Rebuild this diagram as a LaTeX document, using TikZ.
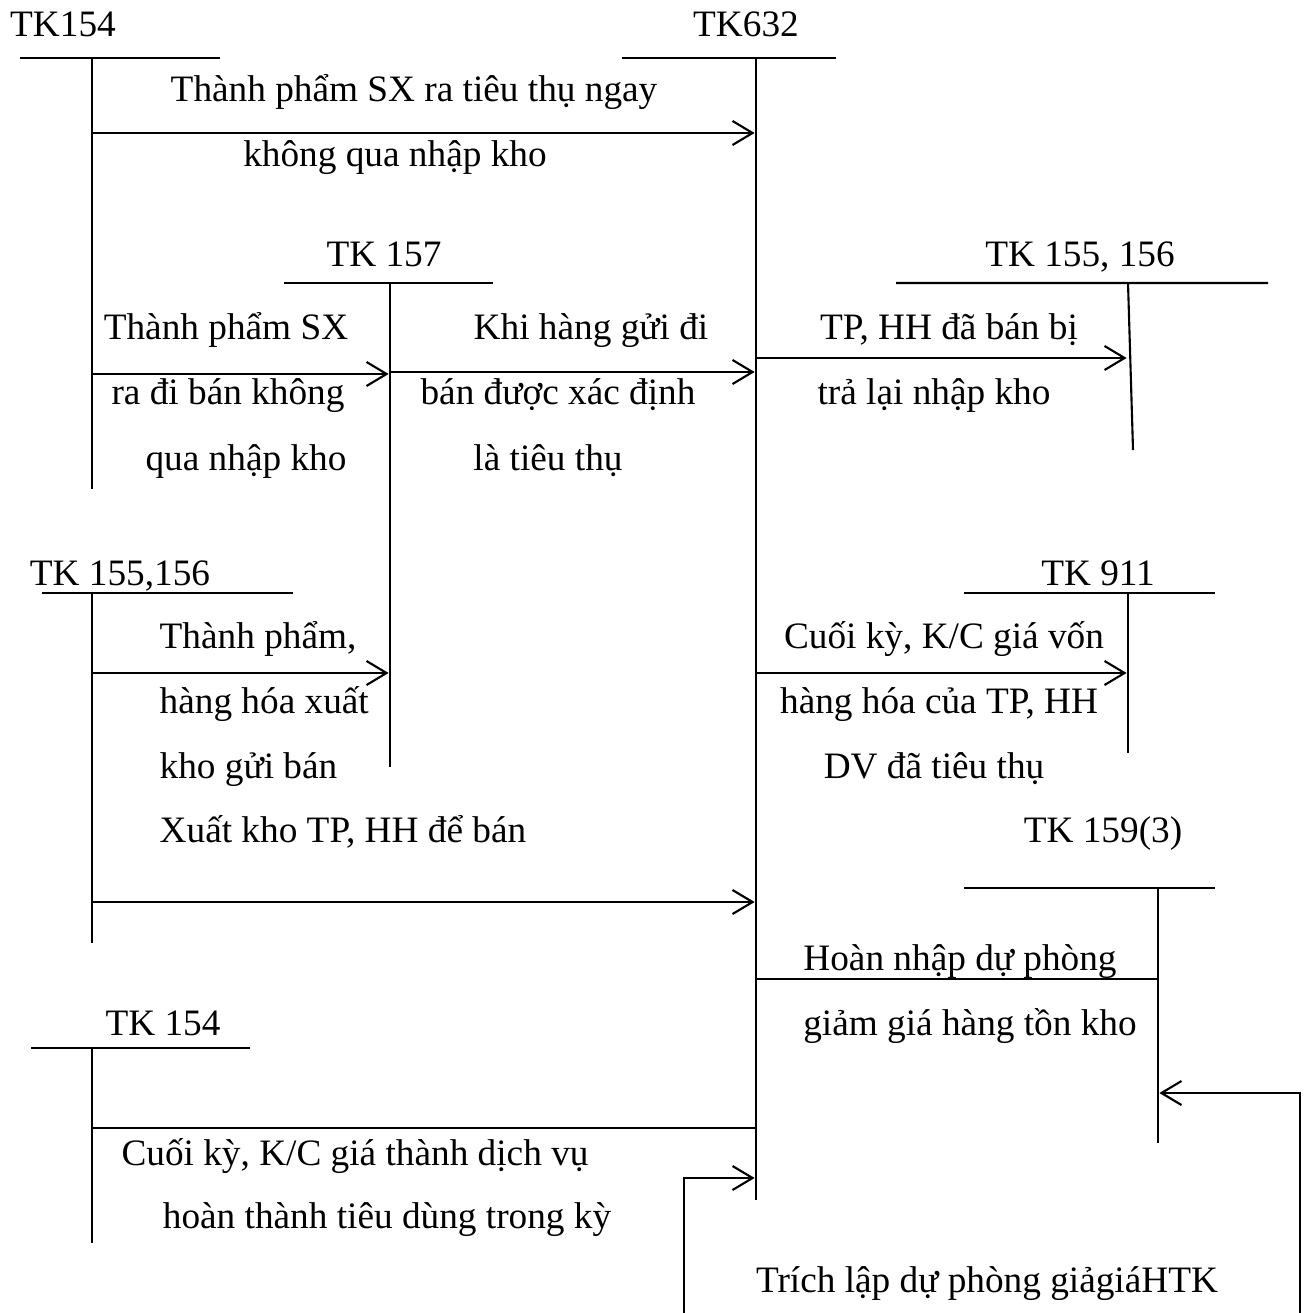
\documentclass[tikz,border=0pt]{standalone}
\usepackage{fontspec}
\setmainfont{Liberation Serif}
\usepackage{tikz}
\usetikzlibrary{arrows.meta,calc}

\begin{document}
\begin{tikzpicture}[x=0.01cm,y=-0.01cm,font=\fontsize{10.6}{13}\selectfont,
acct/.style={inner sep=0pt,anchor=base},
lbl/.style={inner sep=0pt,anchor=base},
lblw/.style={inner sep=0pt,anchor=base west},
tline/.style={line width=0.6pt},
arr/.style={-{Straight Barb[length=2mm,width=2.4mm]},line width=0.6pt,shorten >=0.4pt}]
\useasboundingbox (0,0) rectangle (1310,1313);
% T accounts
\node[acct](tk154)at(63,37){TK154};
\coordinate(v154)at(92,58);\draw[tline](20,58)--(220,58) (v154)--(92,489);
\node[acct](tk632)at(746,37){TK632};
\coordinate(v632)at(756,58);\draw[tline](622,58)--(836,58) (v632)--(756,1200);
\node[acct](tk157)at(384,267){TK 157};
\coordinate(v157)at(390,283);\draw[tline](284,283)--(493,283) (v157)--(390,767);
\node[acct](tk155r)at(1080,267){TK 155, 156};
\coordinate(v155r)at(1128,283);\draw[tline](896,283)--(1268,283) (v155r)--(1133,450);
\node[acct](tk155l)at(120,585){TK 155,156};
\coordinate(v155l)at(92,593);\draw[tline](42,593)--(293,593) (v155l)--(92,943);
\node[acct](tk911)at(1098,585){TK 911};
\coordinate(v911)at(1128,593);\draw[tline](964,593)--(1215,593) (v911)--(1128,753);
\node[acct](tk1593)at(1103,842){TK 159(3)};
\coordinate(v1593)at(1158,888);\draw[tline](964,888)--(1215,888) (v1593)--(1158,1143);
\node[acct](tk154b)at(163,1035){TK 154};
\coordinate(v154b)at(92,1048);\draw[tline](31,1048)--(250,1048) (v154b)--(92,1243);
\coordinate(trichl)at(684,1313);\coordinate(trichr)at(1300,1313);
% entries
\draw[arr](v154|-0,133)--(v632|-0,133);
\node[lbl](e1a)at(414,102){Thành phẩm SX ra tiêu thụ ngay};
\node[lbl](e1b)at(395,167){không qua nhập kho};
\draw[arr](v154|-0,374)--(v157|-0,374);
\node[lbl](e2a)at(226,340){Thành phẩm SX};\node[lbl](e2b)at(228,405){ra đi bán không};
\node[lbl](e2c)at(246,470){qua nhập kho};
\draw[arr](v157|-0,372)--(v632|-0,372);
\node[lbl](e3a)at(591,340){Khi hàng gửi đi};\node[lbl](e3b)at(558,405){bán được xác định};
\node[lbl](e3c)at(548,470){là tiêu thụ};
\draw[arr](v632|-0,358)--(v155r|-0,358);
\node[lbl](e4a)at(949,340){TP, HH đã bán bị};\node[lbl](e4b)at(934,405){trả lại nhập kho};
\draw[arr](v155l|-0,673)--(v157|-0,673);
\node[lblw](e5a)at(159,648){Thành phẩm,};\node[lblw](e5b)at(159,713){hàng hóa xuất};
\node[lblw](e5c)at(159,778){kho gửi bán};
\draw[arr](v632|-0,673)--(v911|-0,673);
\node[lbl](e6a)at(944,648){Cuối kỳ, K/C giá vốn};\node[lbl](e6b)at(939,713){hàng hóa của TP, HH};
\node[lbl](e6c)at(934,778){DV đã tiêu thụ};
\draw[arr](v155l|-0,902)--(v632|-0,902);
\node[lblw](e7)at(159,842){Xuất kho TP, HH để bán};
\draw[tline](v1593|-0,979)--(v632|-0,979);
\node[lbl](e8a)at(960,970){Hoàn nhập dự phòng};\node[lbl](e8b)at(970,1035){giảm giá hàng tồn kho};
\draw[tline](v154b|-0,1128)--(v632|-0,1128);
\node[lbl](e9a)at(355,1165){Cuối kỳ, K/C giá thành dịch vụ};
\node[lbl](e9b)at(387,1228){hoàn thành tiêu dùng trong kỳ};
\draw[arr](trichl)|-(v632|-0,1178);
\draw[arr](trichr)|-(v1593|-0,1093);
\node[lbl](e10)at(987,1292){Trích lập dự phòng giảgiáHTK};
\end{tikzpicture}
\end{document}
